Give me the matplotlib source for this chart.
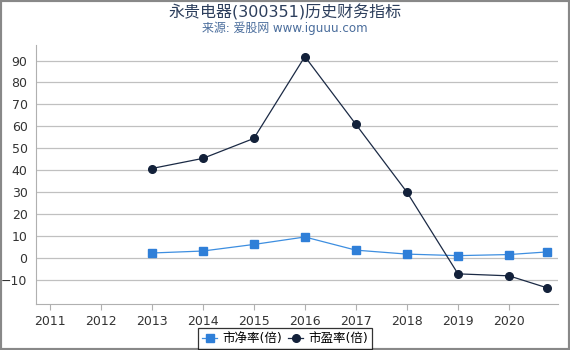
import matplotlib.pyplot as plt
from matplotlib.patches import Rectangle

plt.rcParams['font.family'] = ['DejaVu Sans', 'Noto Sans CJK SC']

# data
years_pb = [2013, 2014, 2015, 2016, 2017, 2018, 2019, 2020, 2020.75]
pb_values = [2.3, 3.2, 6.2, 9.6, 3.6, 1.8, 1.1, 1.6, 2.8]
years_pe = [2013, 2014, 2015, 2016, 2017, 2018, 2019, 2020, 2020.75]
pe_values = [40.8, 45.4, 54.5, 91.8, 60.9, 30.0, -7.2, -8.1, -13.6]
x_ticks = list(range(2011, 2021))
y_ticks = list(range(-10, 100, 10))

fig = plt.figure(figsize=(5.7, 3.5), dpi=100)
ax = fig.add_axes([0.063, 0.131, 0.916, 0.74])

ax.plot(years_pb, pb_values, color='#3d8ee0', lw=0.9, marker='s', ms=5.5,
        markerfacecolor='#2f7fd8', markeredgecolor='#2f7fd8', label='市净率(倍)', zorder=3)
ax.plot(years_pe, pe_values, color='#1b2a45', lw=0.9, marker='o', ms=5.5,
        markerfacecolor='#13213a', markeredgecolor='#13213a', label='市盈率(倍)', zorder=3)

ax.set_xlim(2010.73, 2020.96)
ax.set_ylim(-21, 97)
ax.set_xticks(x_ticks)
ax.set_yticks(y_ticks)
ax.grid(axis='y', color='#c0c0c0', lw=0.9)
ax.set_axisbelow(True)
for s in ['top', 'right']:
    ax.spines[s].set_visible(False)
for s in ['left', 'bottom']:
    ax.spines[s].set_color('#b0b0b0')
ax.tick_params(axis='y', length=0, labelsize=9, labelcolor='#333333', pad=6)
ax.tick_params(axis='x', length=4, color='#b0b0b0', labelsize=9, labelcolor='#333333')

fig.text(0.5, 0.965, '永贵电器(300351)历史财务指标', ha='center', va='center',
         fontsize=11.5, color='#2c3e5c')
fig.text(0.5, 0.918, '来源: 爱股网 www.iguuu.com', ha='center', va='center',
         fontsize=8.6, color='#4a6d9c')

handles, labels = ax.get_legend_handles_labels()
leg = fig.legend(handles, labels, loc='lower center', bbox_to_anchor=(0.5, 0.003),
                 ncol=2, fontsize=9, frameon=True, fancybox=False, handlelength=1.2,
                 handletextpad=0.4, columnspacing=0.5, borderpad=0.3,
                 borderaxespad=0.0)
leg.get_frame().set_edgecolor('black')
leg.get_frame().set_linewidth(0.9)

fig.add_artist(Rectangle((0, 0), 1, 1, transform=fig.transFigure,
                         fill=False, edgecolor='#888888', lw=3))

fig.savefig('out.png', dpi=100)
